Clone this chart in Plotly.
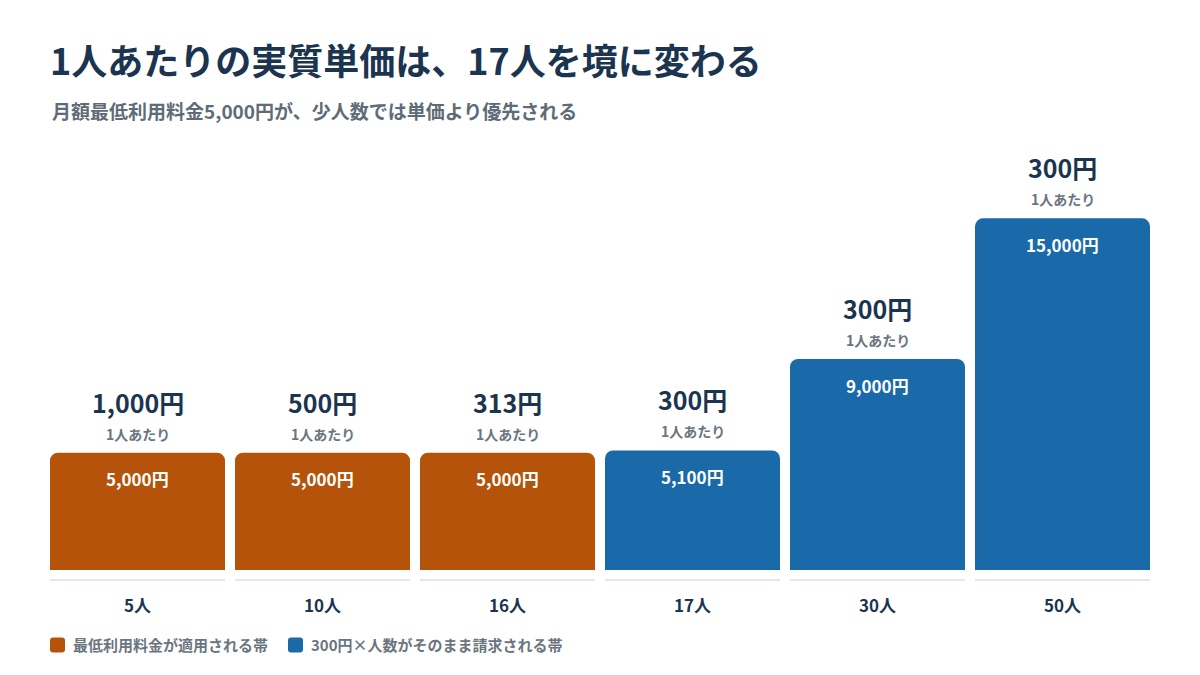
import plotly.graph_objects as go

# ---- data ----
categories = ["5人", "10人", "16人", "17人", "30人", "50人"]
monthly_total = [5000, 5000, 5000, 5100, 9000, 15000]
per_person = [1000, 500, 313, 300, 300, 300]
is_minimum = [True, True, True, False, False, False]
legend_names = ["最低利用料金が適用される帯", "300円×人数がそのまま請求される帯"]

ORANGE = "#B5530A"
BLUE = "#1A6AAA"
NAVY = "#1B3550"
GRAY = "#6B7580"
FONT = "Noto Sans CJK JP"

BARGAP = 10 / 185
PLOT_H = 422.5  # px height of the plotting area

fig = go.Figure()

for flag, name, color in [(True, legend_names[0], ORANGE), (False, legend_names[1], BLUE)]:
    xs = [c for c, m in zip(categories, is_minimum) if m == flag]
    ys = [v for v, m in zip(monthly_total, is_minimum) if m == flag]
    fig.add_trace(go.Bar(
        x=xs, y=ys, name=name, showlegend=False,
        marker=dict(color=color, cornerradius=8, line=dict(width=0)),
        hoverinfo="skip",
    ))

# labels on / above each bar
for c, total, unit in zip(categories, monthly_total, per_person):
    fig.add_annotation(x=c, y=total, yshift=-26, text=f"<b>{total:,}円</b>",
                       showarrow=False, font=dict(size=17, color="white", family=FONT))
    fig.add_annotation(x=c, y=total, yshift=19, text="<b>1人あたり</b>",
                       showarrow=False, font=dict(size=14, color=GRAY, family=FONT))
    fig.add_annotation(x=c, y=total, yshift=51, text=f"<b>{unit:,}円</b>",
                       showarrow=False, font=dict(size=25, color=NAVY, family=FONT))

# light baseline under each bar
half = (1 - BARGAP) / 2
for i, c in enumerate(categories):
    fig.add_shape(type="line", xref="x", yref="paper",
                  x0=i - half, x1=i + half, y0=-10 / PLOT_H, y1=-10 / PLOT_H,
                  line=dict(color="#E3E8EF", width=2))


# legend (drawn by hand so the swatches sit like the original)
def rounded_square(size=15, r=3):
    s = size
    y0 = -s / 2
    y1 = s / 2
    return (f"M {r},{y0} L {s-r},{y0} Q {s},{y0} {s},{y0+r} L {s},{y1-r} "
            f"Q {s},{y1} {s-r},{y1} L {r},{y1} Q 0,{y1} 0,{y1-r} L 0,{y0+r} "
            f"Q 0,{y0} {r},{y0} Z")


legend_y = -75 / PLOT_H
legend_x_px = [5, 243]
for name, color, xpx in zip(legend_names, [ORANGE, BLUE], legend_x_px):
    fig.add_shape(type="path", xref="paper", yref="paper",
                  xsizemode="pixel", ysizemode="pixel",
                  xanchor=xpx / 1110, yanchor=legend_y,
                  path=rounded_square(),
                  fillcolor=color, line=dict(width=0))
    fig.add_annotation(xref="paper", yref="paper", x=(xpx + 21) / 1110, y=legend_y,
                       xanchor="left", yanchor="middle", showarrow=False,
                       text=f"<b>{name}</b>", font=dict(size=15, color=GRAY, family=FONT))

fig.update_layout(
    width=1200, height=675,
    margin=dict(l=37, r=53, t=139.5, b=113),
    paper_bgcolor="white", plot_bgcolor="white",
    barmode="overlay", bargap=BARGAP,
    font=dict(family=FONT, color=NAVY),
    title=dict(
        text="<b>1人あたりの実質単価は、17人を境に変わる</b>",
        xref="container", yref="container", x=42 / 1200, xanchor="left",
        y=1 - 54 / 675, yanchor="middle",
        font=dict(size=36, color=NAVY, family=FONT),
    ),
    showlegend=False,
    xaxis=dict(
        type="category", categoryorder="array", categoryarray=categories,
        showgrid=False, showline=False, zeroline=False, ticks="",
        tickfont=dict(size=17, color=NAVY, family=FONT, weight="bold"),
        ticklabelstandoff=24,
    ),
    yaxis=dict(range=[0, 18000], visible=False),
)

fig.add_annotation(
    xref="paper", yref="paper", x=5 / 1110, y=(570 - 110) / PLOT_H,
    xanchor="left", yanchor="middle", showarrow=False,
    text="<b>月額最低利用料金5,000円が、少人数では単価より優先される</b>",
    font=dict(size=19, color="#5F6B77", family=FONT),
)

fig.write_html("out.html")
